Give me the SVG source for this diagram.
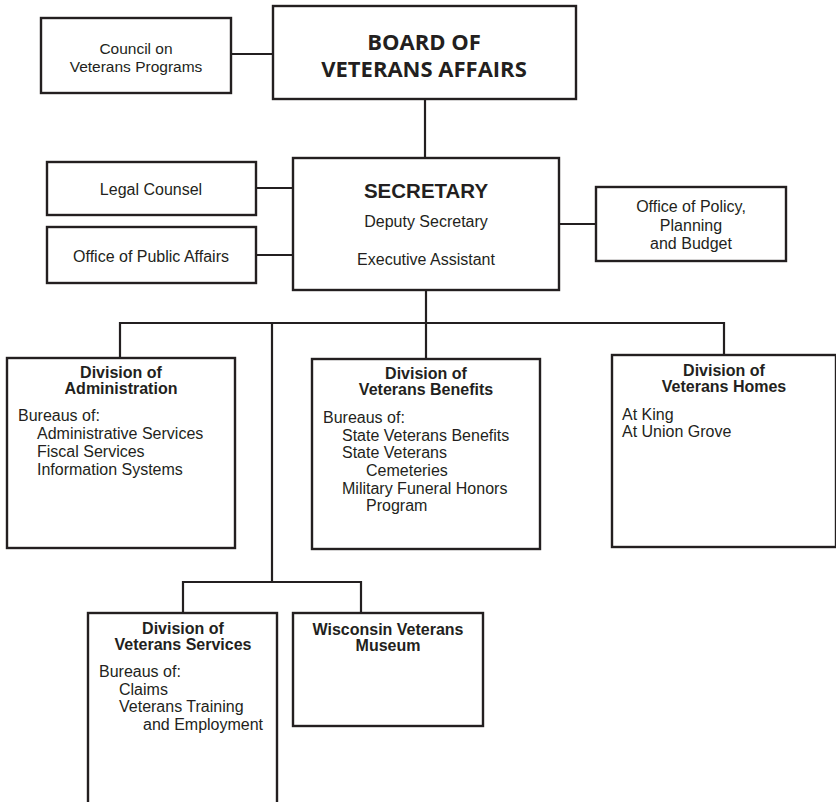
<svg xmlns="http://www.w3.org/2000/svg" width="836" height="802" viewBox="0 0 836 802">
<style>
.box{fill:#fff;stroke:#231f20;stroke-width:2.4}
.ln{fill:none;stroke:#231f20;stroke-width:2.2}
text{font-family:"Liberation Sans",Arial,sans-serif;fill:#231f20;font-size:16px}
.c{text-anchor:middle}
.b{font-weight:bold}
.big{font-family:"Open Sans","Liberation Sans",sans-serif;font-weight:700;font-size:22px;text-anchor:middle}
</style>
<rect width="836" height="802" fill="#fff"/>
<g id="connectors">
<path class="ln" d="M231 54H273"/>
<path class="ln" d="M425 99V158"/>
<path class="ln" d="M256 188H293"/>
<path class="ln" d="M256 255H293"/>
<path class="ln" d="M559 224H596"/>
<path class="ln" d="M426 290V359"/>
<path class="ln" d="M120 358V323H724V355"/>
<path class="ln" d="M272 323V582"/>
<path class="ln" d="M183 613V582H361V613"/>
</g>
<g id="council">
<rect class="box" x="41" y="18" width="190" height="75"/>
<text class="c" x="136" y="54" style="font-size:15.5px">Council on</text>
<text class="c" x="136" y="72" style="font-size:15.5px">Veterans Programs</text>
</g>
<g id="board">
<rect class="box" x="273" y="6" width="303" height="93"/>
<text class="big" x="424" y="50">BOARD OF</text>
<text class="big" x="424" y="77">VETERANS AFFAIRS</text>
</g>
<g id="legal">
<rect class="box" x="47" y="162" width="209" height="53"/>
<text class="c" x="151" y="195">Legal Counsel</text>
</g>
<g id="public">
<rect class="box" x="47" y="227" width="209" height="56"/>
<text class="c" x="151" y="262">Office of Public Affairs</text>
</g>
<g id="secretary">
<rect class="box" x="293" y="158" width="266" height="132"/>
<text class="c b" x="426" y="198" style="font-size:20.5px">SECRETARY</text>
<text class="c" x="426" y="227">Deputy Secretary</text>
<text class="c" x="426" y="265">Executive Assistant</text>
</g>
<g id="policy">
<rect class="box" x="596" y="187" width="190" height="74"/>
<text class="c" x="691" y="212">Office of Policy,</text>
<text class="c" x="691" y="231">Planning</text>
<text class="c" x="691" y="249">and Budget</text>
</g>
<g id="administration">
<rect class="box" x="7" y="358" width="228" height="190"/>
<text class="c b" x="121" y="378">Division of</text>
<text class="c b" x="121" y="394">Administration</text>
<text x="18" y="421">Bureaus of:</text>
<text x="37" y="439">Administrative Services</text>
<text x="37" y="457">Fiscal Services</text>
<text x="37" y="475">Information Systems</text>
</g>
<g id="benefits">
<rect class="box" x="312" y="359" width="228" height="190"/>
<text class="c b" x="426" y="379">Division of</text>
<text class="c b" x="426" y="395">Veterans Benefits</text>
<text x="323" y="423">Bureaus of:</text>
<text x="342" y="441">State Veterans Benefits</text>
<text x="342" y="458">State Veterans</text>
<text x="366" y="476">Cemeteries</text>
<text x="342" y="494">Military Funeral Honors</text>
<text x="366" y="511">Program</text>
</g>
<g id="homes">
<rect class="box" x="612" y="355" width="224" height="192"/>
<text class="c b" x="724" y="376">Division of</text>
<text class="c b" x="724" y="392">Veterans Homes</text>
<text x="622" y="420">At King</text>
<text x="622" y="437">At Union Grove</text>
</g>
<g id="services">
<rect class="box" x="88" y="613" width="189" height="192"/>
<text class="c b" x="183" y="634">Division of</text>
<text class="c b" x="183" y="650">Veterans Services</text>
<text x="99" y="677">Bureaus of:</text>
<text x="119" y="695">Claims</text>
<text x="119" y="712">Veterans Training</text>
<text x="143" y="730">and Employment</text>
</g>
<g id="museum">
<rect class="box" x="293" y="613" width="190" height="113"/>
<text class="c b" x="388" y="635">Wisconsin Veterans</text>
<text class="c b" x="388" y="651">Museum</text>
</g>
</svg>
